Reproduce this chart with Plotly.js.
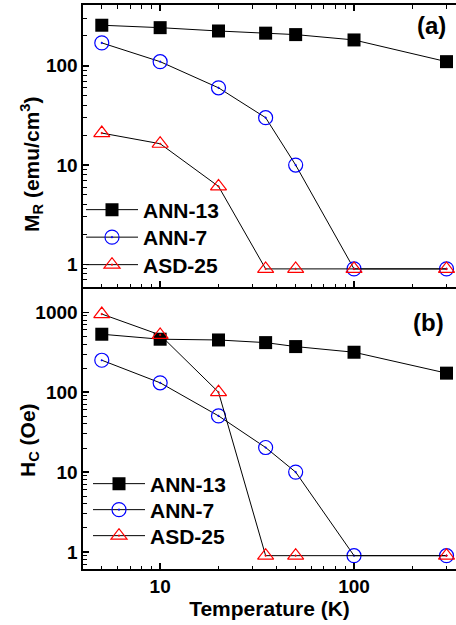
<!DOCTYPE html>
<html>
<head>
<meta charset="utf-8">
<script src="https://cdn.plot.ly/plotly-3.0.1.min.js"></script>
<style>html,body{margin:0;padding:0;background:#fff;}#chart{width:456px;height:625px;}</style>
</head>
<body>
<div id="chart"></div>
<script>
// Data
const temperature = [5, 10, 20, 35, 50, 100, 300];
const mrANN13 = [256, 242, 224, 213, 206, 182, 110];
const mrANN7  = [170, 110, 60, 30, 10, 0.9, 0.9];
const mrASD25 = [21, 16.4, 6.1, 0.9, 0.9, 0.9, 0.9];

const hcANN13 = [531, 460, 450, 417, 372, 316, 173];
const hcANN7  = [251, 131, 50.5, 20.3, 10, 0.9, 0.9];
const temperatureASD25H = [5, 10, 20, 35, 50, 300];
const hcASD25 = [950, 520, 100, 0.9, 0.9, 0.9];

const seriesNames = ['ANN-13', 'ANN-7', 'ASD-25'];
const xTickVals = [10, 100];
const xTickText = ['10', '100'];
const mrTickVals = [1, 10, 100];
const mrTickText = ['1', '10', '100'];
const hcTickVals = [1, 10, 100, 1000];
const hcTickText = ['1', '10', '100', '1000'];

const FONT = 'Liberation Sans, Arial, sans-serif';
const lineStyle = {color: '#000', width: 1};
const styles = [
  {symbol: 'square', size: 13, color: '#000', line: {width: 0}},
  {symbol: 'circle-open-dot', size: 14, color: '#0000ff', line: {width: 1.2}},
  {symbol: 'triangle-up-open-dot', size: 14, color: '#ff0000', line: {width: 1.2}}
];

function tr(x, y, i, xa, ya, lg) {
  return {x: x, y: y, name: seriesNames[i], type: 'scatter', mode: 'lines+markers',
    xaxis: xa, yaxis: ya, legend: lg, line: lineStyle, marker: styles[i], cliponaxis: false};
}

const data = [
  tr(temperature, mrANN13, 0, 'x2', 'y2', 'legend'),
  tr(temperature, mrANN7, 1, 'x2', 'y2', 'legend2'),
  tr(temperature, mrASD25, 2, 'x2', 'y2', 'legend3'),
  tr(temperature, hcANN13, 0, 'x', 'y', 'legend4'),
  tr(temperature, hcANN7, 1, 'x', 'y', 'legend5'),
  tr(temperatureASD25H, hcASD25, 2, 'x', 'y', 'legend6')
];

const minor = {ticks: 'inside', ticklen: 3.5, tickwidth: 1, tickcolor: '#000', dtick: 'D1', showgrid: false};
const tickFont = {family: FONT, size: 19, weight: 'bold', color: '#000'};
const xRange = [Math.log10(4.0), 2.526];

function yPix(py) { return (569 - py) / 564; }
function xPix(px) { return (px - 83) / 373; }

const legendFont = {family: FONT, size: 21, weight: 'bold', color: '#000'};
function lgd(px, centerPy) {
  return {x: xPix(px), y: yPix(centerPy - 20.5), xanchor: 'left', yanchor: 'top',
    bgcolor: 'rgba(0,0,0,0)', borderwidth: 0, font: legendFont, itemwidth: 52, tracegroupgap: 0};
}

const layout = {
  width: 456, height: 625,
  margin: {l: 83, r: 0, t: 5, b: 56},
  paper_bgcolor: '#fff', plot_bgcolor: '#fff',
  font: {family: FONT, color: '#000'},
  showlegend: true,
  xaxis: {type: 'log', range: xRange, domain: [0, 1], anchor: 'y',
    tickvals: xTickVals, ticktext: xTickText, ticks: 'inside', ticklen: 6, tickwidth: 1.5,
    tickcolor: '#000', showline: true, linewidth: 1.6, linecolor: '#000', mirror: false,
    showgrid: false, zeroline: false, minor: minor, tickfont: tickFont,
    title: {text: 'Temperature (K)', font: {family: FONT, size: 21, weight: 'bold'}, standoff: 2}},
  xaxis2: {type: 'log', range: xRange, domain: [0, 1], anchor: 'y2', matches: 'x',
    tickvals: xTickVals, ticks: 'inside', ticklen: 6, tickwidth: 1.5, tickcolor: '#000',
    showticklabels: false, showline: true, linewidth: 1.6, linecolor: '#000', mirror: 'ticks',
    showgrid: false, zeroline: false, minor: minor},
  yaxis: {type: 'log', range: [-0.2125, 3.316], domain: [0, 0.5], anchor: 'x',
    tickvals: hcTickVals, ticktext: hcTickText, ticks: 'inside', ticklen: 6, tickwidth: 1.5,
    tickcolor: '#000', showline: true, linewidth: 1.6, linecolor: '#000', mirror: false,
    showgrid: false, zeroline: false, minor: minor, tickfont: tickFont},
  yaxis2: {type: 'log', range: [-0.228, 2.612], domain: [0.5, 1], anchor: 'x2',
    tickvals: mrTickVals, ticktext: mrTickText, ticks: 'inside', ticklen: 6, tickwidth: 1.5,
    tickcolor: '#000', showline: true, linewidth: 1.6, linecolor: '#000', mirror: false,
    showgrid: false, zeroline: false, minor: minor, tickfont: tickFont},
  legend: lgd(81, 210),
  legend2: lgd(81, 237.5),
  legend3: lgd(81, 265),
  legend4: lgd(88, 484),
  legend5: lgd(88, 510),
  legend6: lgd(88, 536),
  annotations: [
    {text: 'M<sub>R</sub> (emu/cm<sup>3</sup>)', textangle: -90, xref: 'paper', yref: 'paper',
      x: xPix(31), y: yPix(164), xanchor: 'center', yanchor: 'middle', showarrow: false,
      font: {family: FONT, size: 21, weight: 'bold'}},
    {text: 'H<sub>C</sub> (Oe)', textangle: -90, xref: 'paper', yref: 'paper',
      x: xPix(29), y: yPix(440), xanchor: 'center', yanchor: 'middle', showarrow: false,
      font: {family: FONT, size: 21, weight: 'bold'}},
    {text: '(a)', xref: 'paper', yref: 'paper', x: xPix(431), y: yPix(25), xanchor: 'center',
      yanchor: 'middle', showarrow: false, font: {family: FONT, size: 24, weight: 'bold'}},
    {text: '(b)', xref: 'paper', yref: 'paper', x: xPix(428), y: yPix(322), xanchor: 'center',
      yanchor: 'middle', showarrow: false, font: {family: FONT, size: 24, weight: 'bold'}}
  ]
};

Plotly.newPlot('chart', data, layout, {staticPlot: true, displayModeBar: false});
</script>
</body>
</html>
